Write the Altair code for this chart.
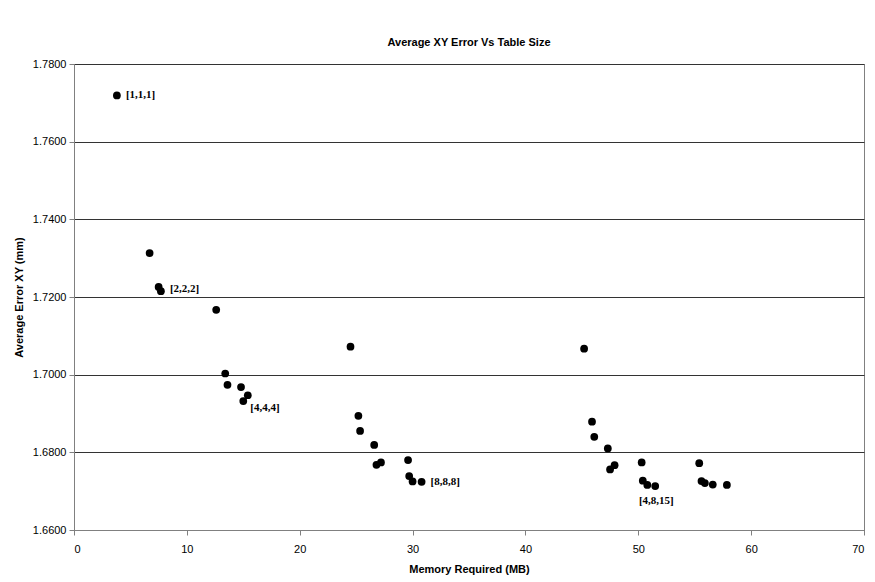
import altair as alt
import pandas as pd

memory_mb = [3.8, 6.7, 7.5, 7.7, 12.6, 24.5, 13.4, 13.6, 14.8, 15.4, 15.0,
             25.2, 25.35, 26.6, 26.8, 27.2, 29.6, 29.7, 30.0, 30.8,
             45.2, 45.9, 46.1, 47.3, 47.5, 47.9, 50.3, 50.4, 50.8, 51.5,
             55.4, 55.6, 55.9, 56.6, 57.85]
avg_error = [1.7719, 1.7313, 1.7226, 1.7215, 1.7167, 1.7072, 1.7003, 1.6974, 1.6968, 1.6947, 1.6932,
             1.6894, 1.6855, 1.6819, 1.6768, 1.6774, 1.6780, 1.6739, 1.6725, 1.6724,
             1.7067, 1.6879, 1.6840, 1.6810, 1.6756, 1.6767, 1.6774, 1.6727, 1.6716, 1.6713,
             1.6772, 1.6726, 1.6721, 1.6717, 1.6716]

right_labels = ["[1,1,1]", "[2,2,2]", "[8,8,8]"]
right_x = [3.8, 7.7, 30.8]
right_y = [1.7719, 1.7220, 1.6724]

diag_labels = ["[4,4,4]"]
diag_x = [15.0]
diag_y = [1.6932]

below_labels = ["[4,8,15]"]
below_x = [51.6]
below_y = [1.6716]

x_ticks = [0, 10, 20, 30, 40, 50, 60, 70]
y_ticks = [1.66, 1.68, 1.70, 1.72, 1.74, 1.76, 1.78]

pts = pd.DataFrame({"mem": memory_mb, "err": avg_error})
rdf = pd.DataFrame({"label": right_labels, "mem": right_x, "err": right_y})
ddf = pd.DataFrame({"label": diag_labels, "mem": diag_x, "err": diag_y})
bdf = pd.DataFrame({"label": below_labels, "mem": below_x, "err": below_y})

xs = alt.Scale(domain=[0, 70], nice=False, zero=False)
ys = alt.Scale(domain=[1.66, 1.78], nice=False, zero=False)

x_enc = alt.X("mem:Q", scale=xs, title="Memory Required (MB)",
              axis=alt.Axis(values=x_ticks, grid=False, format="d", labelFont="Liberation Sans",
                            labelFontSize=11, labelColor="#000", titleFont="Liberation Sans",
                            titleFontSize=11, titleFontWeight="bold", titleColor="#000",
                            domainColor="#808080", tickColor="#808080", tickSize=5,
                            labelPadding=8, titlePadding=9))
y_enc = alt.Y("err:Q", scale=ys, title="Average Error XY (mm)",
              axis=alt.Axis(values=y_ticks, grid=True, gridColor="#333", format=".4f",
                            labelFont="Liberation Sans", labelFontSize=11, labelColor="#000",
                            titleFont="Liberation Sans", titleFontSize=11, titleFontWeight="bold",
                            titleColor="#000", domainColor="#808080", tickColor="#808080",
                            tickSize=5, labelPadding=3, titlePadding=8))

points = alt.Chart(pts).mark_circle(size=60, color="#000", opacity=1).encode(x=x_enc, y=y_enc)

txt_style = dict(font="Liberation Serif", fontSize=11, fontWeight="bold", color="#000")
right_t = alt.Chart(rdf).mark_text(align="left", baseline="middle", dx=9, **txt_style).encode(
    x="mem:Q", y="err:Q", text="label:N")
diag_t = alt.Chart(ddf).mark_text(align="left", baseline="middle", dx=7, dy=7, **txt_style).encode(
    x="mem:Q", y="err:Q", text="label:N")
below_t = alt.Chart(bdf).mark_text(align="center", baseline="middle", dy=16, **txt_style).encode(
    x="mem:Q", y="err:Q", text="label:N")

chart = alt.layer(points, right_t, diag_t, below_t).properties(
    width=790, height=466,
    title=alt.TitleParams("Average XY Error Vs Table Size", font="Liberation Sans", fontSize=11,
                          fontWeight="bold", color="#000", offset=10),
    padding={"left": 5, "top": 29, "right": 2, "bottom": 5},
).configure_view(stroke="#808080", strokeWidth=1)

chart.save("out.html", embed_options={"renderer": "svg", "actions": False})
